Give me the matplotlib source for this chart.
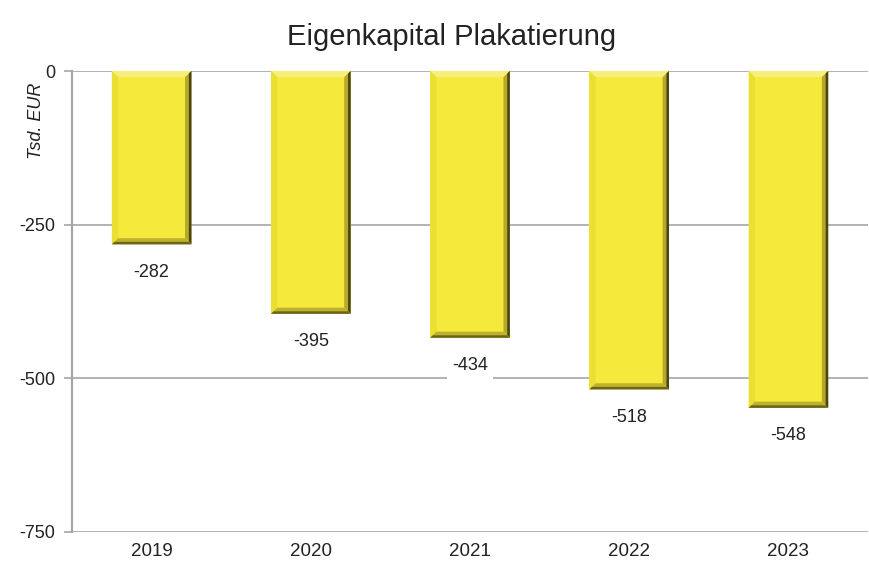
import matplotlib
matplotlib.use("Agg")
import matplotlib.pyplot as plt
from matplotlib.patches import Polygon

plt.rcParams['font.family'] = ['Liberation Sans', 'DejaVu Sans']

years = ['2019', '2020', '2021', '2022', '2023']
equity = [-282, -395, -434, -518, -548]
y_ticks = [0, -250, -500, -750]

bar_width = 0.5
grid_col = '#a6a6a6'
face = '#f5e93c'

fig = plt.figure(figsize=(8.7, 5.68), dpi=100)
ax = fig.add_axes([0.0828, 0.0634, 0.9149, 0.8116])

ax.set_xlim(-0.5, len(years) - 0.5)
ax.set_ylim(-750, 0)
ax.set_yticks(y_ticks)
ax.set_yticklabels([str(t) for t in y_ticks])
ax.set_xticks(range(len(years)))
ax.set_xticklabels(years)

for t in y_ticks:
    ax.axhline(t, color=grid_col, lw=1.2, zorder=1)

for s in ['top', 'right', 'bottom']:
    ax.spines[s].set_visible(False)
ax.spines['left'].set_color(grid_col)
ax.spines['left'].set_linewidth(1.6)
ax.tick_params(axis='y', length=6, width=1.2, color=grid_col, labelsize=13, pad=6,
               labelcolor='#222222')
ax.tick_params(axis='x', length=0, labelsize=13.5, pad=8, labelcolor='#222222')

# bevel sizes in data units (about 6 px)
bx = 0.04
by = 10.0

bars = ax.bar(range(len(years)), equity, width=bar_width, color=face, zorder=3)

for i, v in enumerate(equity):
    x0 = i - bar_width / 2
    x1 = i + bar_width / 2
    top, bot = 0, v
    # light top edge
    ax.add_patch(Polygon([(x0, top), (x1, top), (x1 - bx, top - by), (x0 + bx, top - by)],
                         closed=True, color='#f7ee7c', lw=0, zorder=4))
    # left edge
    ax.add_patch(Polygon([(x0, top), (x0 + bx, top - by), (x0 + bx, bot + by), (x0, bot)],
                         closed=True, color='#ecdf34', lw=0, zorder=4))
    # dark right edge
    ax.add_patch(Polygon([(x1, top), (x1, bot), (x1 - bx, bot + by), (x1 - bx, top - by)],
                         closed=True, color='#b5a82a', lw=0, zorder=4))
    ax.add_patch(Polygon([(x1, top), (x1, bot), (x1 - bx * 0.4, bot + by * 0.4),
                          (x1 - bx * 0.4, top - by * 0.4)],
                         closed=True, color='#4a4512', lw=0, zorder=4))
    # bottom edge
    ax.add_patch(Polygon([(x0, bot), (x1, bot), (x1 - bx, bot + by), (x0 + bx, bot + by)],
                         closed=True, color='#beb12e', lw=0, zorder=5))
    ax.add_patch(Polygon([(x0, bot), (x1, bot), (x1 - bx * 0.4, bot + by * 0.4),
                          (x0 + bx * 0.4, bot + by * 0.4)],
                         closed=True, color='#6b6418', lw=0, zorder=5))

    ax.annotate(str(v), (i, v), xytext=(0, -20), textcoords='offset points',
                ha='center', va='center', fontsize=13, color='#222222', zorder=6,
                bbox=dict(boxstyle='square,pad=0.3', fc='white', ec='none'))

ax.text(-0.045, 0.893, 'Tsd. EUR', transform=ax.transAxes, rotation=90,
        ha='center', va='center', fontsize=13, fontstyle='italic', color='#222222')

fig.suptitle('Eigenkapital Plakatierung', x=0.519, y=0.96, fontsize=21, color='#222222')

fig.savefig('out.png', dpi=100)
